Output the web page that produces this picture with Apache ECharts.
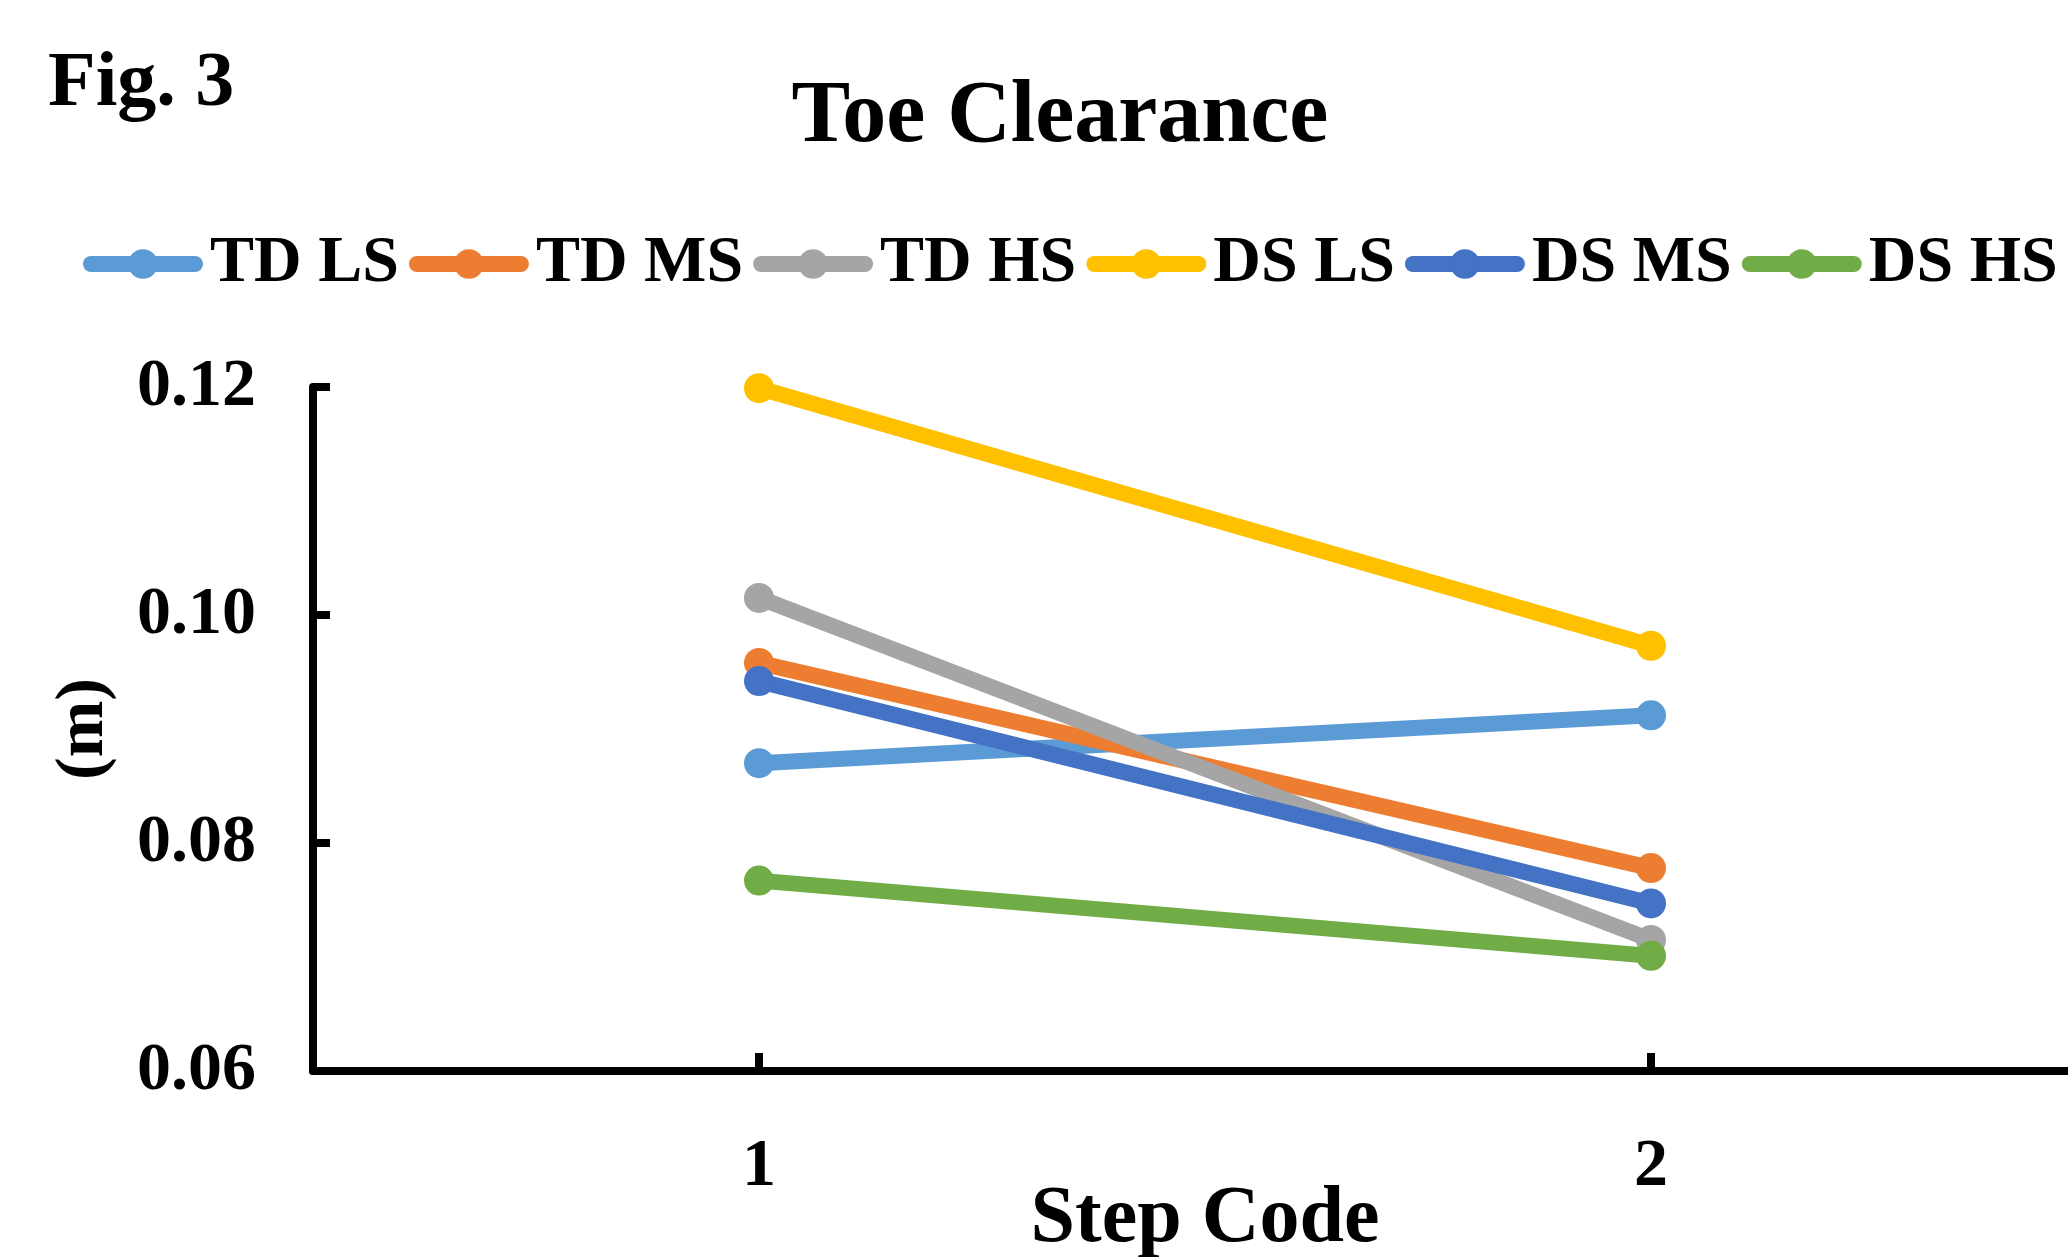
<!DOCTYPE html>
<html>
<head>
<meta charset="utf-8">
<title>Toe Clearance</title>
<script src="https://cdn.jsdelivr.net/npm/echarts@6/dist/echarts.min.js"></script>
<style>
  html, body { margin: 0; padding: 0; background: #ffffff; }
  #chart { width: 2068px; height: 1257px; }
</style>
</head>
<body>
<div id="chart"></div>
<script>
// Step codes on the x axis
const stepCodes = ['1', '2'];

// Toe clearance (m) per group, one value per step code
const tdLS = [0.0870, 0.0912];
const tdMS = [0.0958, 0.0778];
const tdHS = [0.1015, 0.0715];
const dsLS = [0.1199, 0.0973];
const dsMS = [0.0942, 0.0747];
const dsHS = [0.0767, 0.0701];

const seriesNames = ['TD LS', 'TD MS', 'TD HS', 'DS LS', 'DS MS', 'DS HS'];
const seriesData = [tdLS, tdMS, tdHS, dsLS, dsMS, dsHS];
const seriesColors = ['#5B9BD5', '#ED7D31', '#A5A5A5', '#FFC000', '#4472C4', '#70AD47'];

// Value axis range and step
const yMin = 0.06;
const yMax = 0.12;
const yStep = 0.02;

const serif = '"Liberation Serif", "Times New Roman", serif';

const chart = echarts.init(document.getElementById('chart'), null, { renderer: 'canvas' });

chart.setOption({
  animation: false,
  backgroundColor: '#ffffff',
  graphic: [
    {
      type: 'text', x: 48, y: 85,
      style: {
        text: 'Fig. 3', fontFamily: serif, fontWeight: 'bold', fontSize: 78,
        fill: '#000000', align: 'left', verticalAlign: 'middle'
      }
    },
    {
      type: 'text', x: 1060, y: 118,
      style: {
        text: 'Toe Clearance', fontFamily: serif, fontWeight: 'bold', fontSize: 88,
        fill: '#000000', align: 'center', verticalAlign: 'middle'
      }
    }
  ],
  legend: {
    data: seriesNames,
    left: 83,
    top: 231,
    width: 2100,
    padding: 0,
    itemWidth: 104,
    itemHeight: 37,
    itemGap: 10,
    selectedMode: false,
    lineStyle: { width: 16, cap: 'round' },
    textStyle: {
      fontFamily: serif, fontWeight: 'bold', fontSize: 66, color: '#000000',
      padding: [0, 0, 0, 10]
    }
  },
  grid: {
    left: 313,
    top: 387,
    width: 1784,
    height: 684,
    containLabel: false,
    outerBoundsMode: 'none'
  },
  xAxis: {
    type: 'category',
    data: stepCodes,
    boundaryGap: true,
    name: 'Step Code',
    nameLocation: 'middle',
    nameGap: 109,
    nameMoveOverlap: false,
    nameTextStyle: {
      fontFamily: serif, fontWeight: 'bold', fontSize: 80, color: '#000000'
    },
    axisLine: { show: true, lineStyle: { color: '#000000', width: 8 } },
    axisTick: {
      show: true, inside: true, alignWithLabel: true, length: 18,
      lineStyle: { color: '#000000', width: 8 }
    },
    axisLabel: {
      margin: 62,
      fontFamily: serif, fontWeight: 'bold', fontSize: 68, color: '#000000'
    },
    splitLine: { show: false }
  },
  yAxis: {
    type: 'value',
    min: yMin,
    max: yMax,
    interval: yStep,
    name: '(m)',
    nameLocation: 'middle',
    nameGap: 195,
    nameRotate: 90,
    nameMoveOverlap: false,
    nameTextStyle: {
      fontFamily: serif, fontWeight: 'bold', fontSize: 68, color: '#000000'
    },
    axisLine: { show: true, lineStyle: { color: '#000000', width: 8 } },
    axisTick: {
      show: true, inside: true, length: 17,
      lineStyle: { color: '#000000', width: 8 }
    },
    axisLabel: {
      margin: 57,
      formatter: function (v) { return v.toFixed(2); },
      fontFamily: serif, fontWeight: 'bold', fontSize: 68, color: '#000000'
    },
    splitLine: { show: false }
  },
  series: seriesNames.map(function (name, i) {
    return {
      name: name,
      type: 'line',
      data: seriesData[i],
      symbol: 'circle',
      symbolSize: 30,
      showSymbol: true,
      color: seriesColors[i],
      itemStyle: { color: seriesColors[i] },
      lineStyle: { color: seriesColors[i], width: 16 },
      emphasis: { disabled: true },
      z: 2 + i
    };
  })
});
</script>
</body>
</html>
